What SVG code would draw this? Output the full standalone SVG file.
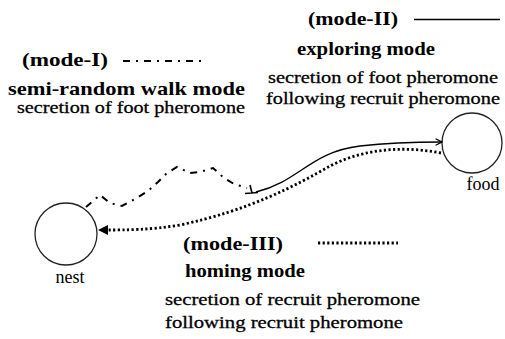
<svg xmlns="http://www.w3.org/2000/svg" width="505" height="339" viewBox="0 0 505 339">
  <style>
    .hd { font-weight: bold; font-size: 19px; fill: #000; }
    .tx { font-size: 17.5px; fill: #000; stroke: #000; stroke-width: 0.3; }
    .lbl { font-size: 18px; fill: #000; text-anchor: middle; }
    .site { fill: #fff; stroke: #222; stroke-width: 1.3; }
    .walk { fill: none; stroke: #000; stroke-width: 2; stroke-dasharray: 7 6 2 6; }
    .explore { fill: none; stroke: #000; stroke-width: 1.3; }
    .home { fill: none; stroke: #000; stroke-width: 2.8; stroke-dasharray: 2.2 2.4; }
  </style>
  <defs>
    <marker id="arrowOpen" viewBox="0 0 10 10" refX="9" refY="5" markerWidth="8" markerHeight="8" markerUnits="userSpaceOnUse" orient="auto">
      <path d="M1,1 L9,5 L1,9" fill="none" stroke="#000" stroke-width="1.5"/>
    </marker>
  </defs>
  <rect width="505" height="339" fill="#fff"/>

  <g font-family="'Liberation Serif', 'Times New Roman', serif">
    <!-- legend: semi-random walk -->
    <g id="mode-1">
      <text class="hd" x="22" y="66" textLength="86" lengthAdjust="spacingAndGlyphs">(mode-I)</text>
      <line class="walk" x1="123" y1="61" x2="205" y2="61"/>
      <text class="hd" x="8" y="95" textLength="237" lengthAdjust="spacingAndGlyphs">semi-random walk mode</text>
      <text class="tx" x="17" y="113" textLength="228" lengthAdjust="spacingAndGlyphs">secretion of foot pheromone</text>
    </g>

    <!-- legend: exploring -->
    <g id="mode-2">
      <text class="hd" x="308" y="25" textLength="90" lengthAdjust="spacingAndGlyphs">(mode-II)</text>
      <line class="explore" x1="414" y1="19.5" x2="500" y2="19.5" stroke-width="1.6"/>
      <text class="hd" x="297" y="55" textLength="138" lengthAdjust="spacingAndGlyphs">exploring mode</text>
      <text class="tx" x="268" y="83" textLength="230" lengthAdjust="spacingAndGlyphs">secretion of foot pheromone</text>
      <text class="tx" x="266" y="104" textLength="234" lengthAdjust="spacingAndGlyphs">following recruit pheromone</text>
    </g>

    <!-- legend: homing -->
    <g id="mode-3">
      <text class="hd" x="183" y="250" textLength="100" lengthAdjust="spacingAndGlyphs">(mode-III)</text>
      <line class="home" x1="318" y1="243" x2="398" y2="243"/>
      <text class="hd" x="185" y="277" textLength="120" lengthAdjust="spacingAndGlyphs">homing mode</text>
      <text class="tx" x="165" y="305" textLength="255" lengthAdjust="spacingAndGlyphs">secretion of recruit pheromone</text>
      <text class="tx" x="165" y="328" textLength="238" lengthAdjust="spacingAndGlyphs">following recruit pheromone</text>
    </g>

    <!-- nodes -->
    <g id="nest">
      <circle class="site" cx="66" cy="234" r="31"/>
      <text class="lbl" x="70" y="283">nest</text>
    </g>
    <g id="food">
      <circle class="site" cx="472" cy="143" r="30"/>
      <text class="lbl" x="483" y="190">food</text>
    </g>
  </g>

  <!-- connectors -->
  <g id="connectors">
    <!-- semi-random walk leaving the nest -->
    <path class="walk" d="M86,207 L100,195 L110,203 L122,206 L135,199 L148,191 L158,182 L166,174 L177,167 L190,173 L200,172 L213,168 L224,178 L234,184 L247,188"/>
    <path d="M250,185 L252,193 M245,193.5 L258,192.5" fill="none" stroke="#000" stroke-width="1.6"/>
    <!-- exploring path to the food -->
    <path class="explore" d="M256,192 C300,181 310,152 360,146 C395,142 420,142 442,142" marker-end="url(#arrowOpen)"/>
    <!-- homing path back to the nest -->
    <path class="home" d="M441,153 C405,146 365,148 330,166 C295,186 250,210 180,225 C150,230 125,230 107,230"/>
    <path d="M98,230 L108,225 L108,235 Z" fill="#000"/>
  </g>
</svg>
